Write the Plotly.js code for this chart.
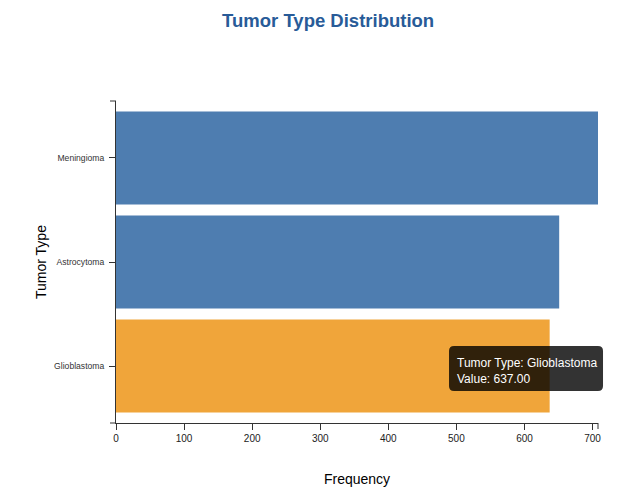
<!DOCTYPE html>
<html>
<head>
<meta charset="utf-8">
<script src="https://cdn.plot.ly/plotly-3.0.1.min.js"></script>
<style>html,body{margin:0;padding:0;background:#fff;}#chart{width:625px;height:487px;}</style>
</head>
<body>
<div id="chart"></div>
<script>
var categories = ["Meningioma", "Astrocytoma", "Glioblastoma"];
var frequencies = [708, 651, 637];
var barColors = ["#4e7db0", "#4e7db0", "#f0a53a"];
var xTicks = [0, 100, 200, 300, 400, 500, 600, 700];
var tooltipText = "Tumor Type: Glioblastoma<br>Value: 637.00";

var font = "Liberation Sans, Arial, Helvetica, sans-serif";
var trace = {
  type: "bar",
  orientation: "h",
  y: categories,
  x: frequencies,
  marker: {color: barColors, line: {width: 0}},
  hoverinfo: "none"
};
var layout = {
  width: 625, height: 487,
  margin: {l: 116, r: 27, t: 101, b: 64, pad: 0},
  paper_bgcolor: "#fff", plot_bgcolor: "#fff",
  showlegend: false,
  bargap: 0.106,
  font: {family: font, color: "#000"},
  title: {text: "<b>Tumor Type Distribution</b>", font: {size: 18.5, color: "#285b98", family: font}, x: 0.525, xanchor: "center", y: 0.957, yanchor: "middle"},
  xaxis: {
    range: [0, 708], showgrid: false, zeroline: false,
    showline: true, linecolor: "#333", linewidth: 1,
    ticks: "outside", ticklen: 6, tickcolor: "#333",
    tickvals: xTicks, ticktext: xTicks.map(String),
    tickfont: {size: 10, color: "#222"},
    title: {text: "Frequency", font: {size: 14, color: "#000"}, standoff: 32},
    fixedrange: true
  },
  yaxis: {
    type: "category", categoryorder: "array", categoryarray: categories.slice().reverse(),
    range: [-0.548, 2.548], showgrid: false, zeroline: false,
    showline: true, linecolor: "#333", linewidth: 1,
    ticks: "outside", ticklen: 6, tickcolor: "#333",
    ticklabelstandoff: 3,
    tickfont: {size: 8.6, color: "#333"},
    title: {text: "Tumor Type", font: {size: 14, color: "#000"}, standoff: 4},
    fixedrange: true
  },
  shapes: [
    {type: "line", xref: "paper", yref: "paper", xsizemode: "pixel", xanchor: 0, x0: -6, x1: 0, y0: 1, y1: 1, line: {color: "#333", width: 1}},
    {type: "line", xref: "paper", yref: "paper", xsizemode: "pixel", xanchor: 0, x0: -6, x1: 0, y0: 0, y1: 0, line: {color: "#333", width: 1}},
    {type: "line", xref: "paper", yref: "paper", ysizemode: "pixel", yanchor: 0, x0: 1, x1: 1, y0: 0, y1: -6, line: {color: "#333", width: 1}},
    {type: "path", xref: "paper", yref: "paper", layer: "above",
     path: "M 0.7013 0.0994 L 1.0 0.0994 Q 1.0104 0.0994 1.0104 0.1149 L 1.0104 0.2236 Q 1.0104 0.2391 1.0 0.2391 L 0.7013 0.2391 Q 0.6909 0.2391 0.6909 0.2236 L 0.6909 0.1149 Q 0.6909 0.0994 0.7013 0.0994 Z",
     fillcolor: "rgba(0,0,0,0.8)", line: {width: 0}}
  ],
  annotations: [
    {xref: "paper", yref: "paper", x: 0.7033, y: 0.160, xanchor: "left", yanchor: "middle", align: "left", showarrow: false,
     text: tooltipText, font: {size: 12, color: "#fff", family: font}}
  ]
};
Plotly.newPlot("chart", [trace], layout, {displayModeBar: false, staticPlot: true});
</script>
</body>
</html>
